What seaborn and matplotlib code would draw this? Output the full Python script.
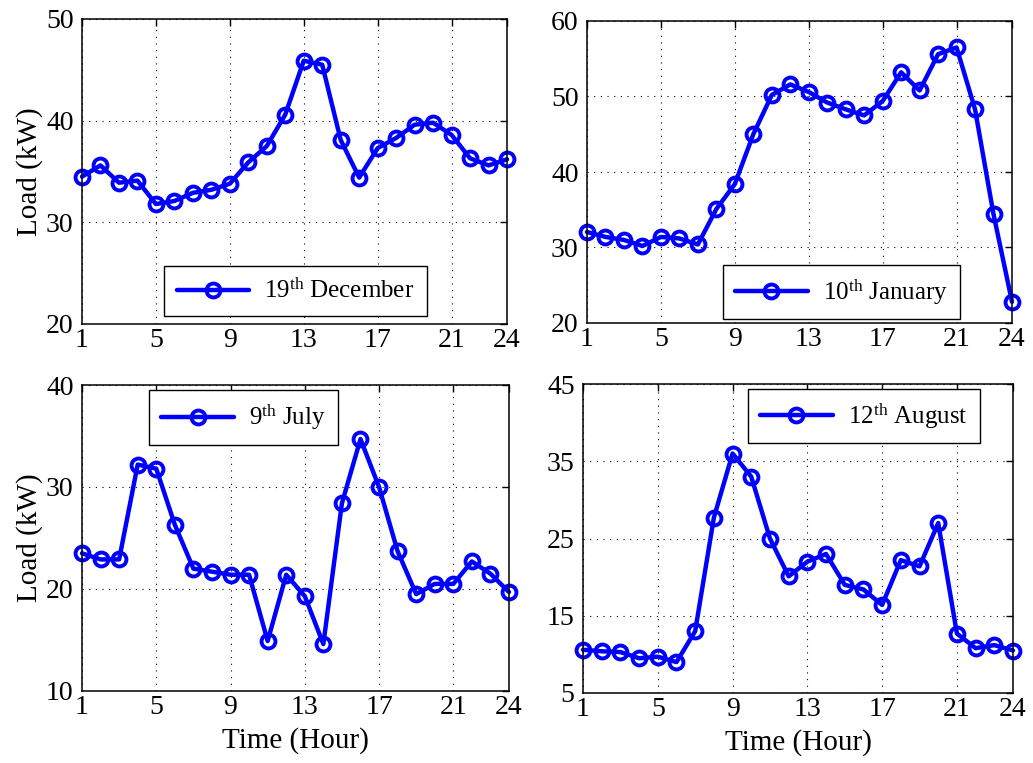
import matplotlib
matplotlib.use("Agg")
import matplotlib.pyplot as plt
import seaborn as sns
import pandas as pd

hours = list(range(1, 25))
dec19 = [34.5, 35.6, 33.9, 34.1, 31.8, 32.1, 32.9, 33.2, 33.8, 35.9, 37.5, 40.6,
         45.9, 45.5, 38.1, 34.4, 37.3, 38.3, 39.6, 39.8, 38.6, 36.3, 35.6, 36.2]
jan10 = [32.05, 31.4, 31.0, 30.2, 31.4, 31.2, 30.4, 35.1, 38.4, 45.0, 50.2, 51.6,
         50.6, 49.2, 48.3, 47.5, 49.4, 53.2, 50.8, 55.6, 56.5, 48.3, 34.4, 22.8]
jul9 = [23.5, 22.9, 22.9, 32.2, 31.8, 26.3, 22.0, 21.7, 21.4, 21.4, 14.9, 21.4,
        19.3, 14.6, 28.4, 34.7, 30.0, 23.7, 19.5, 20.5, 20.5, 22.7, 21.5, 19.7]
aug12 = [10.6, 10.4, 10.3, 9.5, 9.7, 9.0, 13.0, 27.7, 36.0, 33.0, 25.0, 20.1,
         22.0, 23.0, 19.0, 18.4, 16.4, 22.2, 21.4, 27.0, 12.7, 10.8, 11.2, 10.5]

labels = [r"19$^{\rm th}$ December", r"10$^{\rm th}$ January",
          r"9$^{\rm th}$ July", r"12$^{\rm th}$ August"]
series = [dec19, jan10, jul9, aug12]
xticks = [1, 5, 9, 13, 17, 21, 24]
yticks = [[20, 30, 40, 50], [20, 30, 40, 50, 60], [10, 20, 30, 40], [5, 15, 25, 35, 45]]

sns.set_style("white")
plt.rcParams["font.family"] = ["Liberation Serif", "DejaVu Serif"]
plt.rcParams["mathtext.fontset"] = "custom"
plt.rcParams["mathtext.rm"] = "Liberation Serif"
plt.rcParams["mathtext.it"] = "Liberation Serif:italic"
for k in ["text.color", "axes.labelcolor", "xtick.color", "ytick.color",
          "axes.edgecolor"]:
    plt.rcParams[k] = "black"

fig = plt.figure(figsize=(10.33, 7.63), dpi=100)
W, H = 1033, 763
# axes boxes in pixels: left, right, top, bottom
boxes = [(82, 507, 19, 324), (587, 1012, 21, 323),
         (82, 509, 385, 691), (583, 1013, 384, 693)]
legpos = [(0.503, 0.108), (0.599, 0.103), (0.378, 0.893), (0.653, 0.896)]

for i, (vals, lab) in enumerate(zip(series, labels)):
    l, r, t, b = boxes[i]
    ax = fig.add_axes([l / W, 1 - b / H, (r - l) / W, (b - t) / H])
    df = pd.DataFrame({"Hour": hours, "Load": vals})
    sns.lineplot(data=df, x="Hour", y="Load", ax=ax, color="#0000ff", lw=3.2,
                 marker="o", markersize=10, markerfacecolor="none",
                 markeredgecolor="#0000ff", markeredgewidth=2.8, label=lab,
                 clip_on=False, zorder=5)
    ax.set_xlim(1, 24)
    ax.set_ylim(yticks[i][0], yticks[i][-1])
    ax.set_xticks(xticks)
    ax.set_yticks(yticks[i])
    ax.tick_params(direction="in", top=True, right=True, labelsize=20,
                   length=5, width=1, colors="black")
    ax.tick_params(axis="x", pad=3)
    ax.tick_params(axis="y", pad=6)
    ax.grid(True, linestyle=(0, (1, 5)), color="black", linewidth=0.8)
    for s in ax.spines.values():
        s.set_linewidth(1.1)
        s.set_color("black")
        s.set_zorder(6)
    if i % 2 == 0:
        ax.set_ylabel("Load (kW)", fontsize=21, labelpad=2, color="black")
    else:
        ax.set_ylabel("")
    if i >= 2:
        ax.set_xlabel("Time (Hour)", fontsize=21, labelpad=5, color="black")
    else:
        ax.set_xlabel("")
    leg = ax.legend(loc="center", bbox_to_anchor=legpos[i], fontsize=18,
                    frameon=True, fancybox=False, edgecolor="black",
                    handlelength=2.9, borderpad=0.5, handletextpad=0.6)
    for txt in leg.get_texts():
        txt.set_color("black")
    leg.get_frame().set_linewidth(1.0)
    leg.get_frame().set_alpha(1)
    leg.set_zorder(10)

fig.savefig("out.png", dpi=100)
